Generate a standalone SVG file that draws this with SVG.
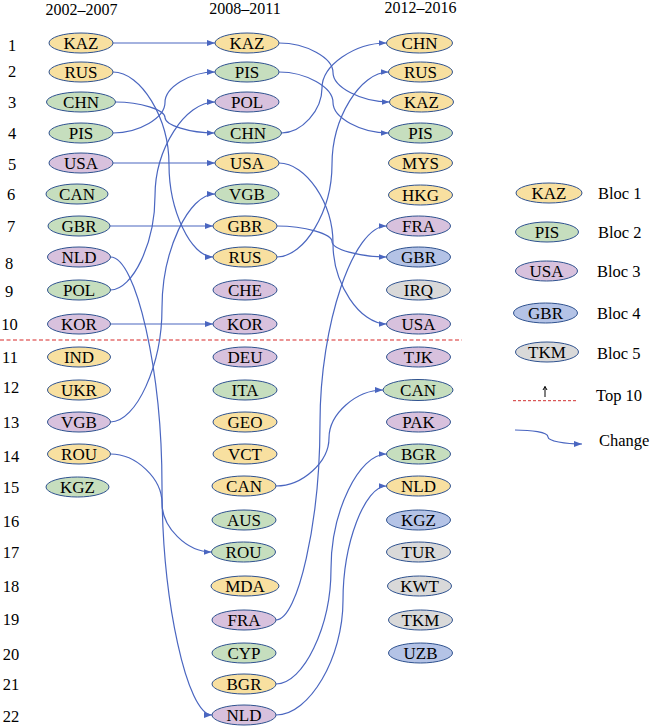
<svg xmlns="http://www.w3.org/2000/svg" width="650" height="728" viewBox="0 0 650 728">
<defs>
<marker id="ah" markerWidth="8" markerHeight="6" refX="8" refY="3" orient="auto" markerUnits="userSpaceOnUse"><path d="M0,0 L8,3 L0,6 z" fill="#4A66C0"/></marker>
<style>
text{font-family:"Liberation Serif","Times New Roman",serif;fill:#000}
.n text{font-family:"Liberation Serif","Times New Roman",serif;font-size:17px;text-anchor:middle}
.hd{font-size:16px;text-anchor:middle}
.rn{font-size:16.5px;text-anchor:middle}
.lg{font-size:16.5px}
ellipse{stroke:#2F528F;stroke-width:1}
.y{fill:#F8E0A0}.g{fill:#C6DEBE}.p{fill:#D8C1DD}.b{fill:#B4C3E6}.s{fill:#D9D9D9}
.c path{fill:none;stroke:#4A66C0;stroke-width:1.2;marker-end:url(#ah)}
</style>
</defs>
<rect width="650" height="728" fill="#fff"/>
<g id="headers">
<text class="hd" x="81.5" y="15">2002–2007</text>
<text class="hd" x="245" y="14">2008–2011</text>
<text class="hd" x="420.5" y="13">2012–2016</text>
</g>
<g id="ranks">
<text class="rn" x="12" y="50.5">1</text>
<text class="rn" x="12" y="76.5">2</text>
<text class="rn" x="12" y="108">3</text>
<text class="rn" x="12" y="139">4</text>
<text class="rn" x="12" y="170">5</text>
<text class="rn" x="11" y="200">6</text>
<text class="rn" x="11" y="231.5">7</text>
<text class="rn" x="9" y="269">8</text>
<text class="rn" x="9" y="297">9</text>
<text class="rn" x="9.5" y="330">10</text>
<text class="rn" x="10" y="362.5">11</text>
<text class="rn" x="11" y="393">12</text>
<text class="rn" x="11" y="428">13</text>
<text class="rn" x="11" y="461.5">14</text>
<text class="rn" x="11" y="493">15</text>
<text class="rn" x="11" y="526.5">16</text>
<text class="rn" x="11" y="558">17</text>
<text class="rn" x="11" y="591.5">18</text>
<text class="rn" x="11" y="625">19</text>
<text class="rn" x="11" y="660">20</text>
<text class="rn" x="11" y="690">21</text>
<text class="rn" x="11" y="721.5">22</text>
</g>
<line id="top10-line" x1="0" y1="340" x2="462" y2="340" stroke="#E57070" stroke-width="1.5" stroke-dasharray="4 2.5"/>
<g class="c" id="connectors">
<path d="M113,43 L215,43"/>
<path d="M113,72 C141,72 169,118.25 169,164.5 C169,210.75 191,257 213,257"/>
<path d="M115.5,102 C140.25,102 165,109.75 165,117.5 C165,125.25 189.75,133 214.5,133"/>
<path d="M113,133 C139,133 165,117.75 165,102.5 C165,87.25 190,72 215,72"/>
<path d="M113,163 L215,163"/>
<path d="M110,226 L213,226"/>
<path d="M110.5,257 C136.25,257 162,371.5 162,486 C162,600.5 187,715 212,715"/>
<path d="M110.5,290 C132.75,290 155,243 155,196 C155,149 185,102 215,102"/>
<path d="M110.5,324 L213,324"/>
<path d="M110.5,422 C136.25,422 162,365 162,308 C162,251 188.5,194 215,194"/>
<path d="M110.5,454 C136.25,454 162,478.5 162,503 C162,527.5 186.75,552 211.5,552"/>
<path d="M279,43 C306,43 333,57.75 333,72.5 C333,87.25 361.25,102 389.5,102"/>
<path d="M279,72 C306,72 333,87.25 333,102.5 C333,117.75 360.75,133 388.5,133"/>
<path d="M281.5,133 C301.75,133 322,110.5 322,88 C322,65.5 354.25,43 386.5,43"/>
<path d="M279,163 C306,163 333,203.25 333,243.5 C333,283.75 359.75,324 386.5,324"/>
<path d="M277,226 C304.5,226 332,233.75 332,241.5 C332,249.25 359.25,257 386.5,257"/>
<path d="M277,257 C304.5,257 332,210.75 332,164.5 C332,118.25 360.25,72 388.5,72"/>
<path d="M276,486 C302.5,486 329,462 329,438 C329,414 356,390 383,390"/>
<path d="M276,620 C298,620 320,521.5 320,423 C320,324.5 353.25,226 386.5,226"/>
<path d="M276,684 C303.5,684 331,626.5 331,569 C331,511.5 358.75,454 386.5,454"/>
<path d="M276,715 C309.5,715 343,657.75 343,600.5 C343,543.25 364.75,486 386.5,486"/>
</g>
<g class="n" id="col1">
<g id="c1-KAZ"><ellipse class="y" cx="81" cy="43" rx="32" ry="10"/><text x="81" y="48.5">KAZ</text></g>
<g id="c1-RUS"><ellipse class="y" cx="81" cy="72" rx="32" ry="10"/><text x="81" y="77.5">RUS</text></g>
<g id="c1-CHN"><ellipse class="g" cx="81" cy="102" rx="34.5" ry="10"/><text x="81" y="107.5">CHN</text></g>
<g id="c1-PIS"><ellipse class="g" cx="81" cy="133" rx="32" ry="10"/><text x="81" y="138.5">PIS</text></g>
<g id="c1-USA"><ellipse class="p" cx="81" cy="163" rx="32" ry="10"/><text x="81" y="168.5">USA</text></g>
<g id="c1-CAN"><ellipse class="g" cx="77" cy="194" rx="31" ry="10"/><text x="77" y="199.5">CAN</text></g>
<g id="c1-GBR"><ellipse class="g" cx="79" cy="226" rx="31" ry="10"/><text x="79" y="231.5">GBR</text></g>
<g id="c1-NLD"><ellipse class="p" cx="79" cy="257" rx="31.5" ry="10"/><text x="79" y="262.5">NLD</text></g>
<g id="c1-POL"><ellipse class="g" cx="79" cy="290" rx="31.5" ry="10"/><text x="79" y="295.5">POL</text></g>
<g id="c1-KOR"><ellipse class="p" cx="79" cy="324" rx="31.5" ry="10"/><text x="79" y="329.5">KOR</text></g>
<g id="c1-IND"><ellipse class="y" cx="79" cy="357" rx="31.5" ry="10"/><text x="79" y="362.5">IND</text></g>
<g id="c1-UKR"><ellipse class="y" cx="79" cy="390" rx="31.5" ry="10"/><text x="79" y="395.5">UKR</text></g>
<g id="c1-VGB"><ellipse class="p" cx="79" cy="422" rx="31.5" ry="10"/><text x="79" y="427.5">VGB</text></g>
<g id="c1-ROU"><ellipse class="y" cx="79" cy="454" rx="31.5" ry="10"/><text x="79" y="459.5">ROU</text></g>
<g id="c1-KGZ"><ellipse class="g" cx="77.5" cy="487" rx="31.5" ry="10"/><text x="77.5" y="492.5">KGZ</text></g>
</g>
<g class="n" id="col2">
<g id="c2-KAZ"><ellipse class="y" cx="247" cy="43" rx="32" ry="10"/><text x="247" y="48.5">KAZ</text></g>
<g id="c2-PIS"><ellipse class="g" cx="247" cy="72" rx="32" ry="10"/><text x="247" y="77.5">PIS</text></g>
<g id="c2-POL"><ellipse class="p" cx="247" cy="102" rx="32" ry="10"/><text x="247" y="107.5">POL</text></g>
<g id="c2-CHN"><ellipse class="g" cx="248" cy="133" rx="33.5" ry="10"/><text x="248" y="138.5">CHN</text></g>
<g id="c2-USA"><ellipse class="y" cx="247" cy="163" rx="32" ry="10"/><text x="247" y="168.5">USA</text></g>
<g id="c2-VGB"><ellipse class="g" cx="247" cy="194" rx="32" ry="10"/><text x="247" y="199.5">VGB</text></g>
<g id="c2-GBR"><ellipse class="y" cx="245" cy="226" rx="32" ry="10"/><text x="245" y="231.5">GBR</text></g>
<g id="c2-RUS"><ellipse class="y" cx="245" cy="257" rx="32" ry="10"/><text x="245" y="262.5">RUS</text></g>
<g id="c2-CHE"><ellipse class="p" cx="245" cy="290" rx="32" ry="10"/><text x="245" y="295.5">CHE</text></g>
<g id="c2-KOR"><ellipse class="p" cx="245" cy="324" rx="32" ry="10"/><text x="245" y="329.5">KOR</text></g>
<g id="c2-DEU"><ellipse class="p" cx="245" cy="357" rx="32" ry="10"/><text x="245" y="362.5">DEU</text></g>
<g id="c2-ITA"><ellipse class="g" cx="245" cy="390" rx="32" ry="10"/><text x="245" y="395.5">ITA</text></g>
<g id="c2-GEO"><ellipse class="y" cx="245" cy="422" rx="32" ry="10"/><text x="245" y="427.5">GEO</text></g>
<g id="c2-VCT"><ellipse class="y" cx="245" cy="454" rx="32" ry="10"/><text x="245" y="459.5">VCT</text></g>
<g id="c2-CAN"><ellipse class="y" cx="244" cy="486" rx="32" ry="10"/><text x="244" y="491.5">CAN</text></g>
<g id="c2-AUS"><ellipse class="g" cx="244" cy="520" rx="32" ry="10"/><text x="244" y="525.5">AUS</text></g>
<g id="c2-ROU"><ellipse class="g" cx="243.5" cy="552" rx="32" ry="10"/><text x="243.5" y="557.5">ROU</text></g>
<g id="c2-MDA"><ellipse class="y" cx="245" cy="586" rx="34" ry="10"/><text x="245" y="591.5">MDA</text></g>
<g id="c2-FRA"><ellipse class="p" cx="244" cy="620" rx="32" ry="10"/><text x="244" y="625.5">FRA</text></g>
<g id="c2-CYP"><ellipse class="g" cx="244" cy="653" rx="32" ry="10"/><text x="244" y="658.5">CYP</text></g>
<g id="c2-BGR"><ellipse class="y" cx="244" cy="684" rx="32" ry="10"/><text x="244" y="689.5">BGR</text></g>
<g id="c2-NLD"><ellipse class="p" cx="244" cy="715" rx="32" ry="10"/><text x="244" y="720.5">NLD</text></g>
</g>
<g class="n" id="col3">
<g id="c3-CHN"><ellipse class="y" cx="419.5" cy="43" rx="33" ry="10"/><text x="419.5" y="48.5">CHN</text></g>
<g id="c3-RUS"><ellipse class="y" cx="420.5" cy="72" rx="32" ry="10"/><text x="420.5" y="77.5">RUS</text></g>
<g id="c3-KAZ"><ellipse class="y" cx="421.5" cy="102" rx="32" ry="10"/><text x="421.5" y="107.5">KAZ</text></g>
<g id="c3-PIS"><ellipse class="g" cx="420.5" cy="133" rx="32" ry="10"/><text x="420.5" y="138.5">PIS</text></g>
<g id="c3-MYS"><ellipse class="y" cx="420.5" cy="163" rx="32" ry="10"/><text x="420.5" y="168.5">MYS</text></g>
<g id="c3-HKG"><ellipse class="y" cx="420.5" cy="195" rx="32" ry="10"/><text x="420.5" y="200.5">HKG</text></g>
<g id="c3-FRA"><ellipse class="p" cx="418.5" cy="226" rx="32" ry="10"/><text x="418.5" y="231.5">FRA</text></g>
<g id="c3-GBR"><ellipse class="b" cx="418.5" cy="257" rx="32" ry="10"/><text x="418.5" y="262.5">GBR</text></g>
<g id="c3-IRQ"><ellipse class="s" cx="418.5" cy="290" rx="32" ry="10"/><text x="418.5" y="295.5">IRQ</text></g>
<g id="c3-USA"><ellipse class="p" cx="418.5" cy="324" rx="32" ry="10"/><text x="418.5" y="329.5">USA</text></g>
<g id="c3-TJK"><ellipse class="p" cx="418.5" cy="357" rx="32" ry="10"/><text x="418.5" y="362.5">TJK</text></g>
<g id="c3-CAN"><ellipse class="g" cx="418" cy="390" rx="35" ry="10.5"/><text x="418" y="395.5">CAN</text></g>
<g id="c3-PAK"><ellipse class="p" cx="418.5" cy="422" rx="32" ry="10"/><text x="418.5" y="427.5">PAK</text></g>
<g id="c3-BGR"><ellipse class="g" cx="418.5" cy="454" rx="32" ry="10"/><text x="418.5" y="459.5">BGR</text></g>
<g id="c3-NLD"><ellipse class="y" cx="418.5" cy="486" rx="32" ry="10"/><text x="418.5" y="491.5">NLD</text></g>
<g id="c3-KGZ"><ellipse class="b" cx="418.5" cy="520" rx="32" ry="10"/><text x="418.5" y="525.5">KGZ</text></g>
<g id="c3-TUR"><ellipse class="s" cx="418.5" cy="552" rx="32" ry="10"/><text x="418.5" y="557.5">TUR</text></g>
<g id="c3-KWT"><ellipse class="s" cx="419.5" cy="586" rx="32" ry="10"/><text x="419.5" y="591.5">KWT</text></g>
<g id="c3-TKM"><ellipse class="s" cx="420.5" cy="620" rx="32" ry="10"/><text x="420.5" y="625.5">TKM</text></g>
<g id="c3-UZB"><ellipse class="b" cx="420.5" cy="653" rx="32" ry="10"/><text x="420.5" y="658.5">UZB</text></g>
</g>
<g id="legend">
<g class="n" id="lg-bloc1"><ellipse class="y" cx="549" cy="193" rx="33" ry="10"/><text x="549" y="198.5">KAZ</text></g>
<g class="n" id="lg-bloc2"><ellipse class="g" cx="547" cy="232" rx="31.5" ry="10"/><text x="547" y="237.5">PIS</text></g>
<g class="n" id="lg-bloc3"><ellipse class="p" cx="546.5" cy="271" rx="31" ry="10"/><text x="546.5" y="276.5">USA</text></g>
<g class="n" id="lg-bloc4"><ellipse class="b" cx="545.5" cy="313" rx="32" ry="10"/><text x="545.5" y="318.5">GBR</text></g>
<g class="n" id="lg-bloc5"><ellipse class="s" cx="547" cy="352" rx="31.5" ry="10"/><text x="547" y="357.5">TKM</text></g>
<text class="lg" x="598" y="198.5">Bloc 1</text>
<text class="lg" x="598" y="238">Bloc 2</text>
<text class="lg" x="597" y="277">Bloc 3</text>
<text class="lg" x="597" y="319">Bloc 4</text>
<text class="lg" x="597" y="359">Bloc 5</text>
<line x1="545" y1="397" x2="545" y2="386.5" stroke="#000" stroke-width="1"/>
<path d="M543,390 L545,386.5 L547,390" fill="none" stroke="#000" stroke-width="1"/>
<line x1="513" y1="400.7" x2="577" y2="400.7" stroke="#D03030" stroke-width="1" stroke-dasharray="3 2"/>
<text class="lg" x="596" y="400.5">Top 10</text>
<g class="c"><path d="M515,430 C531,430 548,432 548,437 C548,441 565,444 582,444"/></g>
<text class="lg" x="599" y="446">Change</text>
</g>
</svg>
